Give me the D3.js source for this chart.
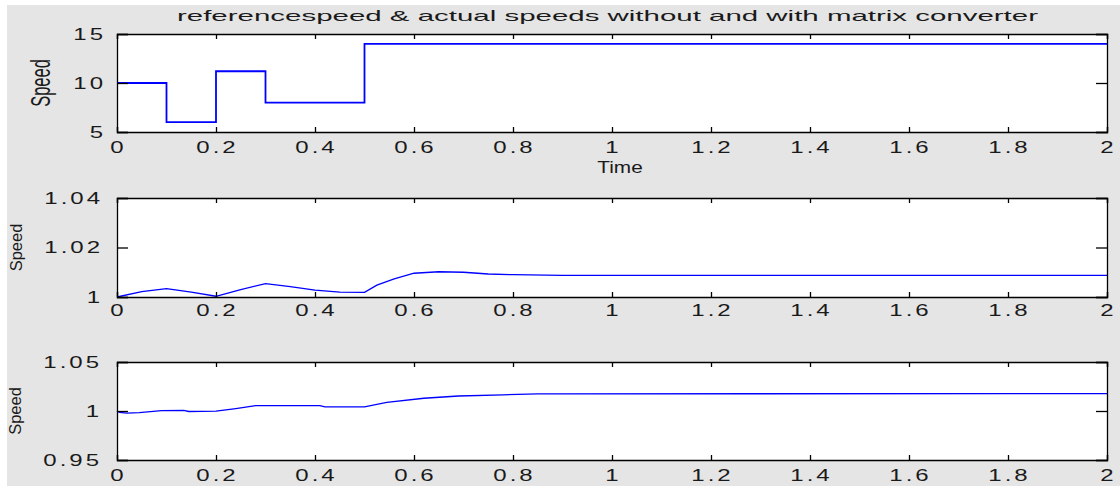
<!DOCTYPE html>
<html lang="en">
<head>
  <meta charset="UTF-8">
  <script src="https://d3js.org/d3.v7.min.js"></script>
  <title>Speed plots</title>
  <style>
    body { margin: 0; background: #fff; }
    text { font-family: "Liberation Sans", Arial, sans-serif; fill: #1a1a1a; }
  </style>
</head>
<body>
<div id="chart"></div>
<script>

  // ---- data ----
  const titleText = "referencespeed & actual speeds without and with matrix converter";

  const xTicks = [0, 0.2, 0.4, 0.6, 0.8, 1, 1.2, 1.4, 1.6, 1.8, 2];

  // reference speed (step signal)
  const refTime  = [0, 0.1, 0.2, 0.3, 0.5, 2];
  const refSpeed = [10, 6, 11.2, 8, 14, 14];

  // actual speed without matrix converter
  const t2 = [0, 0.05, 0.1, 0.15, 0.2, 0.25, 0.3, 0.35, 0.4, 0.45, 0.5, 0.525, 0.56, 0.6, 0.65, 0.7, 0.75, 0.8, 0.9, 2];
  const v2 = [1.0000, 1.0022, 1.0034, 1.0020, 1.0003, 1.0030, 1.0054, 1.0042, 1.0028, 1.0020, 1.0019, 1.0048, 1.0073, 1.0096, 1.0102, 1.0100, 1.0093, 1.0090, 1.0087, 1.0087];

  // actual speed with matrix converter
  const t3 = [0, 0.005, 0.02, 0.045, 0.09, 0.135, 0.145, 0.2, 0.24, 0.28, 0.41, 0.42, 0.5, 0.545, 0.62, 0.69, 0.78, 0.85, 2];
  const v3 = [1.0000, 0.9985, 0.9978, 0.9983, 1.0003, 1.0007, 0.9995, 0.9998, 1.0024, 1.0054, 1.0054, 1.0042, 1.0042, 1.0089, 1.0130, 1.0153, 1.0165, 1.0175, 1.0178];

  const yTicks1 = [5, 10, 15];
  const yTicks2 = [1, 1.02, 1.04];
  const yTicks3 = [0.95, 1, 1.05];

  // ---- layout ----
  const W = 1120, H = 486;
  const left = 117, right = 1107;

  const svg = d3.select("#chart")
    .append("svg")
    .attr("width", W)
    .attr("height", H);

  // figure background (thin white strip at top/left like the screenshot)
  svg.append("rect")
    .attr("x", 7).attr("y", 5)
    .attr("width", W - 7).attr("height", H - 5)
    .attr("fill", "#e5e5e5");

  const x = d3.scaleLinear().domain([0, 2]).range([left, right]);

  const panels = [
    { top: 34,  bottom: 132, domain: [5, 15],       ticks: yTicks1, xs: refTime, ys: refSpeed, step: true,
      lw: 1.8, xlabPad: 21, ylabPad: 11, speedX: 40, speedScale: 1.7 },
    { top: 198, bottom: 297, domain: [1, 1.04],     ticks: yTicks2, xs: t2, ys: v2, step: false,
      lw: 1.3, xlabPad: 19, ylabPad: 14, speedX: 16, speedScale: 1.0 },
    { top: 362, bottom: 460, domain: [0.95, 1.05],  ticks: yTicks3, xs: t3, ys: v3, step: false,
      lw: 1.3, xlabPad: 21, ylabPad: 15, speedX: 15, speedScale: 1.0 }
  ];

  const fmt = d => String(+d.toFixed(2));

  panels.forEach(function (p) {
    const y = d3.scaleLinear().domain(p.domain).range([p.bottom, p.top]);

    // plot area
    svg.append("rect")
      .attr("x", left).attr("y", p.top)
      .attr("width", right - left).attr("height", p.bottom - p.top)
      .attr("fill", "#fff");

    // the curve
    const line = d3.line()
      .x(function (d) { return x(d[0]); })
      .y(function (d) { return y(d[1]); })
      .curve(p.step ? d3.curveStepAfter : d3.curveLinear);

    svg.append("path")
      .datum(d3.zip(p.xs, p.ys))
      .attr("d", line)
      .attr("fill", "none")
      .attr("stroke", "#0000ff")
      .attr("stroke-width", p.lw);

    // axes: ticks point inwards on all four sides
    const bottomAx = svg.append("g")
      .attr("transform", `translate(0,${p.bottom})`)
      .call(d3.axisBottom(x).tickValues(xTicks).tickSize(-5).tickFormat(fmt));
    bottomAx.selectAll("text")
      .attr("y", null).attr("dy", null)
      .attr("transform", `translate(1,${p.xlabPad}) scale(1.5,1)`)
      .style("letter-spacing", "2px");

    svg.append("g")
      .attr("transform", `translate(0,${p.top})`)
      .call(d3.axisTop(x).tickValues(xTicks).tickSize(-5).tickFormat(""));

    const leftAx = svg.append("g")
      .attr("transform", `translate(${left},0)`)
      .call(d3.axisLeft(y).tickValues(p.ticks).tickSize(-11).tickFormat(fmt));
    leftAx.selectAll("text")
      .attr("x", null)
      .attr("transform", `translate(${-p.ylabPad},0) scale(1.5,1)`)
      .style("letter-spacing", "2px");

    svg.append("g")
      .attr("transform", `translate(${right},0)`)
      .call(d3.axisRight(y).tickValues(p.ticks).tickSize(-11).tickFormat(""));

    svg.selectAll(".domain").attr("stroke", "#000").attr("stroke-width", 1.3);
    svg.selectAll(".tick line").attr("stroke", "#000").attr("stroke-width", 1.3);
    svg.selectAll(".tick text")
      .style("font-family", "'Liberation Sans', Arial, sans-serif")
      .style("font-size", "16px")
      .attr("fill", "#1a1a1a");

    // y label
    svg.append("text")
      .attr("transform", `translate(${p.speedX},${(p.top + p.bottom) / 2}) scale(${p.speedScale},1) rotate(-90)`)
      .attr("text-anchor", "middle")
      .attr("dy", "0.35em")
      .style("font-size", "16.5px")
      .text("Speed");
  });

  // title and x label of first panel
  svg.append("text")
    .attr("x", 177).attr("y", 21)
    .attr("textLength", 861)
    .attr("lengthAdjust", "spacingAndGlyphs")
    .style("font-size", "15px")
    .text(titleText);

  svg.append("text")
    .attr("transform", "translate(620,173) scale(1.3,1)")
    .attr("text-anchor", "middle")
    .style("font-size", "16px")
    .text("Time");

</script>
</body>
</html>
